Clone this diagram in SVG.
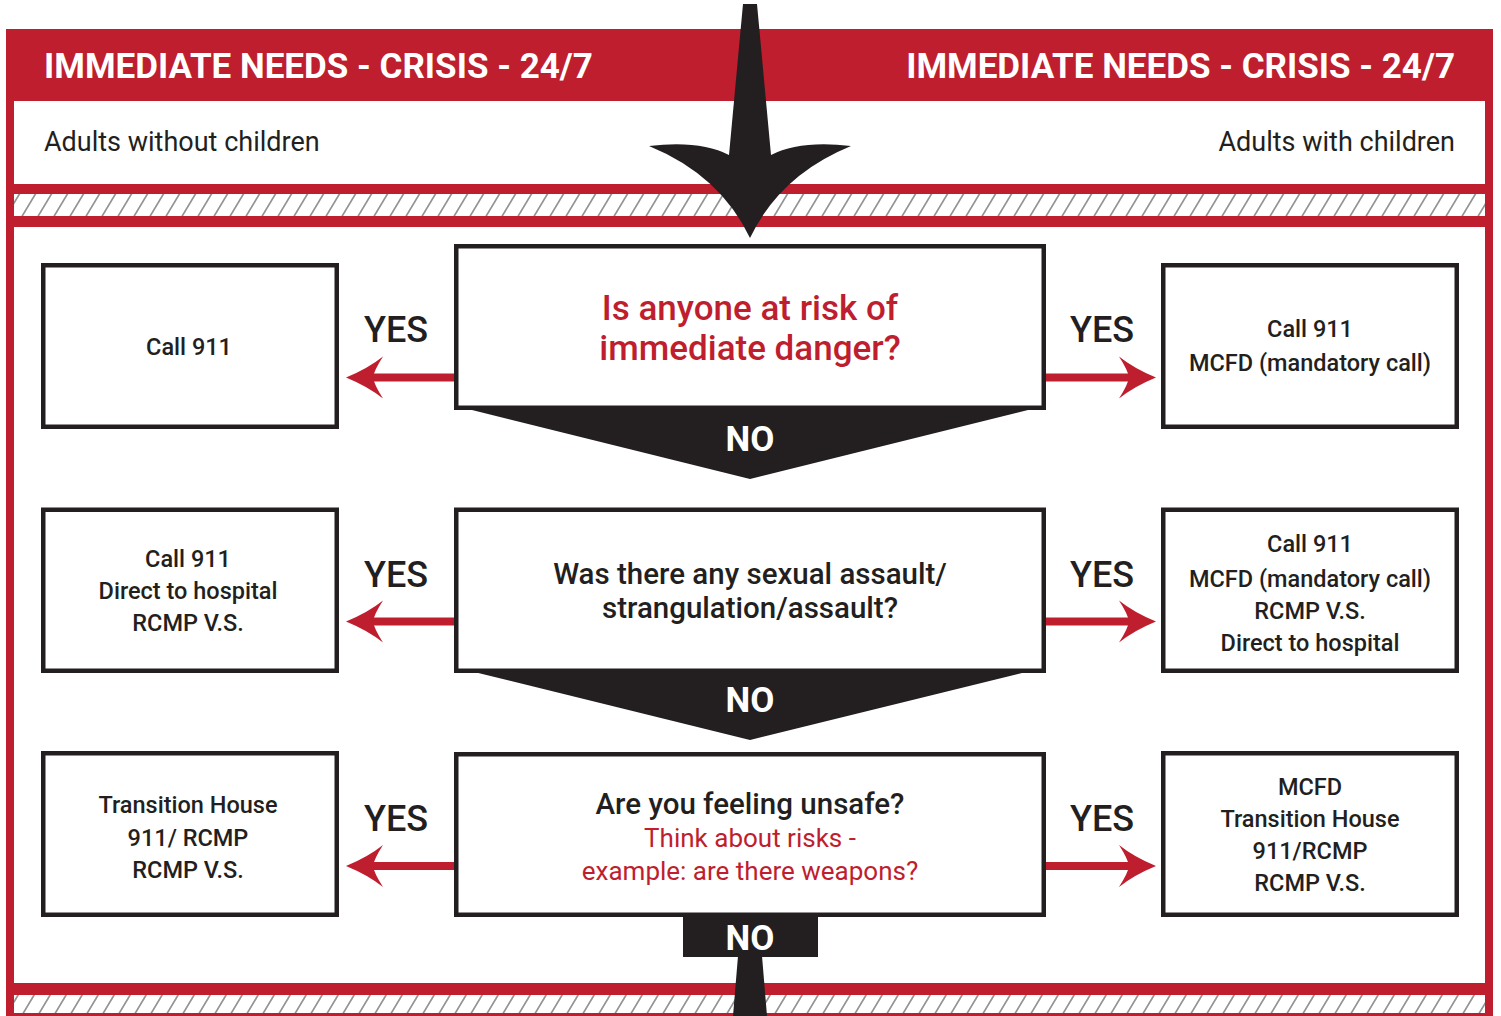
<svg xmlns="http://www.w3.org/2000/svg" xmlns:xlink="http://www.w3.org/1999/xlink" width="1501" height="1016" viewBox="0 0 1501 1016">
<defs>
<style>
.box{fill:#ffffff;stroke:#231f20;stroke-width:4.5}
.hdr{font-family:Roboto,"Liberation Sans",sans-serif;font-weight:bold;font-size:35px;fill:#ffffff}
.sub{font-family:Roboto,"Liberation Sans",sans-serif;font-size:27px;fill:#231f20}
.bt{font-family:Roboto,"Liberation Sans",sans-serif;font-weight:500;font-size:23.5px;fill:#231f20;text-anchor:middle}
.yes{font-family:Roboto,"Liberation Sans",sans-serif;font-weight:500;font-size:36px;fill:#231f20;text-anchor:middle}
.no{font-family:Roboto,"Liberation Sans",sans-serif;font-weight:bold;font-size:35px;fill:#ffffff;text-anchor:middle}
.q{font-family:Roboto,"Liberation Sans",sans-serif;font-weight:500;font-size:29.5px;fill:#231f20;text-anchor:middle}
.qr{font-family:Roboto,"Liberation Sans",sans-serif;font-weight:500;font-size:35px;fill:#be1e2d;text-anchor:middle}
.qs{font-family:Roboto,"Liberation Sans",sans-serif;font-size:26px;fill:#be1e2d;text-anchor:middle}
.shaft{stroke:#be1e2d;stroke-width:8;fill:none}
.blk{fill:#231f20}
</style>
<pattern id="hatch" width="16" height="10" patternUnits="userSpaceOnUse" patternTransform="skewX(-31)">
<rect width="16" height="10" fill="#ffffff"/>
<line x1="8" y1="-1" x2="8" y2="11" stroke="#3c3c3c" stroke-width="1.1"/>
</pattern>
<path id="ah" d="M0,0 Q22,-9 37,-21 Q28,-7 27,0 Q28,7 37,21 Q22,9 0,0 Z" fill="#be1e2d"/>
</defs>
<rect width="1501" height="1016" fill="#ffffff"/>
<g id="frame">
<rect x="6" y="29" width="1487" height="1000" fill="#be1e2d"/>
<rect x="14" y="101" width="1471" height="83" fill="#ffffff"/>
<rect x="14" y="194" width="1471" height="22" fill="url(#hatch)"/>
<rect x="14" y="227" width="1471" height="756" fill="#ffffff"/>
<rect x="14" y="995" width="1471" height="18" fill="url(#hatch)"/>
</g>
<g id="header">
<text class="hdr" x="44" y="77.5">IMMEDIATE NEEDS - CRISIS - 24/7</text>
<text class="hdr" x="1455" y="77.5" text-anchor="end">IMMEDIATE NEEDS - CRISIS - 24/7</text>
<text class="sub" x="44" y="151">Adults without children</text>
<text class="sub" x="1455" y="151" text-anchor="end">Adults with children</text>
</g>
<g id="connectors">
<path class="blk" d="M743,4 L757,4 L771,155 Q800,140 851,146 Q780,175 750,238 Q720,175 649,146 Q700,140 729,155 Z"/>
<line class="shaft" x1="370" y1="377.5" x2="455" y2="377.5"/>
<use xlink:href="#ah" href="#ah" transform="translate(346,377.5)"/>
<line class="shaft" x1="1045" y1="377.5" x2="1132" y2="377.5"/>
<use xlink:href="#ah" href="#ah" transform="translate(1156,377.5) scale(-1,1)"/>
<line class="shaft" x1="370" y1="621.5" x2="455" y2="621.5"/>
<use xlink:href="#ah" href="#ah" transform="translate(346,621.5)"/>
<line class="shaft" x1="1045" y1="621.5" x2="1132" y2="621.5"/>
<use xlink:href="#ah" href="#ah" transform="translate(1156,621.5) scale(-1,1)"/>
<line class="shaft" x1="370" y1="866" x2="455" y2="866"/>
<use xlink:href="#ah" href="#ah" transform="translate(346,866)"/>
<line class="shaft" x1="1045" y1="866" x2="1132" y2="866"/>
<use xlink:href="#ah" href="#ah" transform="translate(1156,866) scale(-1,1)"/>
<text class="yes" x="396" y="342">YES</text>
<text class="yes" x="1102" y="342">YES</text>
<text class="yes" x="396" y="587">YES</text>
<text class="yes" x="1102" y="587">YES</text>
<text class="yes" x="396" y="831">YES</text>
<text class="yes" x="1102" y="831">YES</text>
<polygon class="blk" points="460,407 1040,407 750,479"/>
<text class="no" x="750" y="451">NO</text>
<polygon class="blk" points="466,670 1034,670 750,740"/>
<text class="no" x="750" y="712">NO</text>
<rect class="blk" x="683" y="912" width="135" height="45"/>
<polygon class="blk" points="738,956 762,956 767,1016 733,1016"/>
<text class="no" x="750" y="950">NO</text>
</g>
<g id="q1">
<rect class="box" x="456.25" y="246.25" width="587.5" height="161.5"/>
<text class="qr" x="750" y="320">Is anyone at risk of</text>
<text class="qr" x="750" y="360">immediate danger?</text>
</g>
<g id="q2">
<rect class="box" x="456.25" y="509.75" width="587.5" height="161"/>
<text class="q" x="750" y="584">Was there any sexual assault/</text>
<text class="q" x="750" y="618">strangulation/assault?</text>
</g>
<g id="q3">
<rect class="box" x="456.25" y="754.25" width="587.5" height="160.5"/>
<text class="q" x="750" y="814">Are you feeling unsafe?</text>
<text class="qs" x="750" y="847">Think about risks -</text>
<text class="qs" x="750" y="880">example: are there weapons?</text>
</g>
<g id="l1">
<rect class="box" x="43.25" y="265.25" width="293.5" height="161.5"/>
<text class="bt" x="189" y="355">Call 911</text>
</g>
<g id="l2">
<rect class="box" x="43.25" y="509.75" width="293.5" height="161"/>
<text class="bt" x="188" y="567">Call 911</text>
<text class="bt" x="188" y="599">Direct to hospital</text>
<text class="bt" x="188" y="631">RCMP V.S.</text>
</g>
<g id="l3">
<rect class="box" x="43.25" y="753.25" width="293.5" height="161.5"/>
<text class="bt" x="188" y="813">Transition House</text>
<text class="bt" x="188" y="846">911/ RCMP</text>
<text class="bt" x="188" y="878">RCMP V.S.</text>
</g>
<g id="r1">
<rect class="box" x="1163.25" y="265.25" width="293.5" height="161.5"/>
<text class="bt" x="1310" y="337">Call 911</text>
<text class="bt" x="1310" y="371">MCFD (mandatory call)</text>
</g>
<g id="r2">
<rect class="box" x="1163.25" y="509.75" width="293.5" height="161"/>
<text class="bt" x="1310" y="552">Call 911</text>
<text class="bt" x="1310" y="587">MCFD (mandatory call)</text>
<text class="bt" x="1310" y="618.5">RCMP V.S.</text>
<text class="bt" x="1310" y="651">Direct to hospital</text>
</g>
<g id="r3">
<rect class="box" x="1163.25" y="753.25" width="293.5" height="161.5"/>
<text class="bt" x="1310" y="795">MCFD</text>
<text class="bt" x="1310" y="827">Transition House</text>
<text class="bt" x="1310" y="859">911/RCMP</text>
<text class="bt" x="1310" y="891">RCMP V.S.</text>
</g>
</svg>
